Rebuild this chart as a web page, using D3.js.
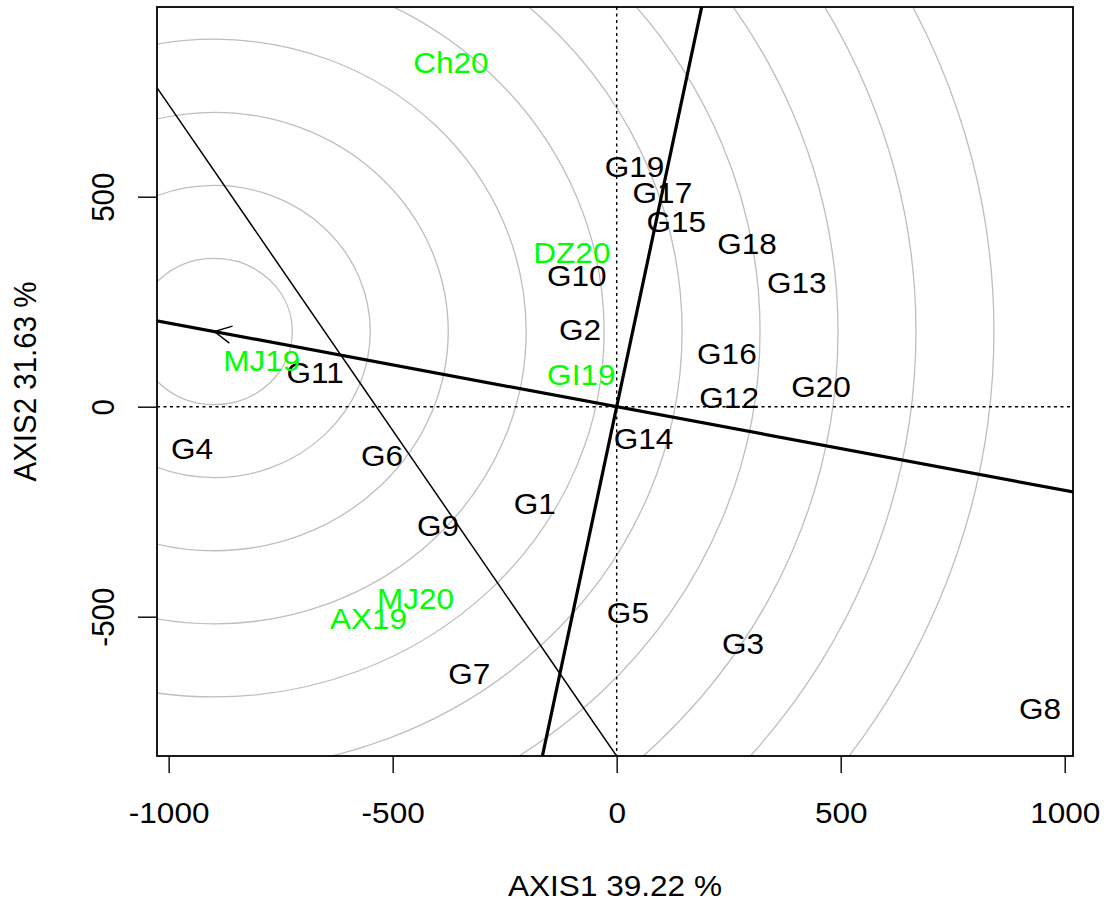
<!DOCTYPE html>
<html>
<head>
<meta charset="utf-8">
<script src="https://cdn.jsdelivr.net/npm/d3@7"></script>
<style>
  html, body { margin: 0; padding: 0; background: #ffffff; }
  svg { display: block; }
  text { font-family: "Liberation Sans", Arial, Helvetica, sans-serif; }
</style>
</head>
<body>
<svg id="chart" width="1104" height="900"></svg>
<script>
// ---------------- data ----------------
const genotypes = ["G1","G2","G3","G4","G5","G6","G7","G8","G9","G10",
                   "G11","G12","G13","G14","G15","G16","G17","G18","G19","G20"];
const genoAxis1 = [-183, -82, 282, -948, 25, -524, -329, 945, -399, -89,
                   -673, 251, 402, 60, 133, 246, 102, 291, 40, 456];
const genoAxis2 = [-230, 183, -563, -100, -491, -115, -635, -719, -283, 312,
                   81, 23, 296, -75, 441, 128, 511, 389, 573, 49];

const environments = ["MJ19","AX19","GI19","Ch20","DZ20","MJ20"];
const envAxis1 = [-792, -554, -79, -370, -100, -449];
const envAxis2 = [109, -504, 78, 820, 367, -457];

const xTicks = [-1000, -500, 0, 500, 1000];
const yTicks = [-500, 0, 500];
const xDomain = [-1026, 1018.5];
const yDomain = [-831.7, 951.7];

const idealPoint = [-898, 179];          // average-environment / ideal point
const ringStep = 174;                    // concentric circle spacing
const ringCount = 10;
const thinLine = [[-1026, 759.5], [0, -832]];  // two points on the thin line

const xTitle = "AXIS1 39.22 %";
const yTitle = "AXIS2 31.63 %";

// ---------------- layout ----------------
const L = 157, R = 1073, T = 7, B = 756;
const FS = 29.5, SX = 1.07;

const svg = d3.select("#chart");
const x = d3.scaleLinear().domain(xDomain).range([L, R]);
const y = d3.scaleLinear().domain(yDomain).range([B, T]);

svg.append("defs").append("clipPath").attr("id", "plotclip")
  .append("rect").attr("x", L).attr("y", T).attr("width", R - L).attr("height", B - T);

const plot = svg.append("g").attr("clip-path", "url(#plotclip)");

// concentric circles around the ideal point (circles in data space)
const rings = d3.range(1, ringCount + 1).map(k => k * ringStep);
plot.selectAll("ellipse.ring").data(rings).join("ellipse")
  .attr("class", "ring")
  .attr("cx", x(idealPoint[0])).attr("cy", y(idealPoint[1]))
  .attr("rx", r => x(r) - x(0)).attr("ry", r => y(0) - y(r))
  .attr("fill", "none").attr("stroke", "#bebebe").attr("stroke-width", 1.3);

// dotted reference lines at 0
plot.append("line")
  .attr("x1", x(0)).attr("x2", x(0)).attr("y1", T).attr("y2", B)
  .attr("stroke", "#000").attr("stroke-width", 1.4).attr("stroke-dasharray", "3,3.5");
plot.append("line")
  .attr("x1", L).attr("x2", R).attr("y1", y(0)).attr("y2", y(0))
  .attr("stroke", "#000").attr("stroke-width", 1.4).attr("stroke-dasharray", "3,3.5");

// average environment axis (through origin and ideal point) and its perpendicular
const ext = 5;
const [ix, iy] = idealPoint;
plot.append("line")
  .attr("x1", x(ix * ext)).attr("y1", y(iy * ext))
  .attr("x2", x(-ix * ext)).attr("y2", y(-iy * ext))
  .attr("stroke", "#000").attr("stroke-width", 3.2);
plot.append("line")
  .attr("x1", x(iy * ext)).attr("y1", y(-ix * ext))
  .attr("x2", x(-iy * ext)).attr("y2", y(ix * ext))
  .attr("stroke", "#000").attr("stroke-width", 3.2);

// thin line
{
  const [p, q] = thinLine;
  const dx = q[0] - p[0], dy = q[1] - p[1];
  plot.append("line")
    .attr("x1", x(p[0] - dx)).attr("y1", y(p[1] - dy))
    .attr("x2", x(q[0] + dx)).attr("y2", y(q[1] + dy))
    .attr("stroke", "#000").attr("stroke-width", 1.5);
}

// open arrowhead at the ideal point
{
  const tx = x(ix), ty = y(iy);
  const ang = Math.atan2(y(0) - ty, x(0) - tx);   // direction back toward origin
  const len = 19, a = 27 * Math.PI / 180;
  const w1 = [tx + len * Math.cos(ang - a), ty + len * Math.sin(ang - a)];
  const w2 = [tx + len * Math.cos(ang + a), ty + len * Math.sin(ang + a)];
  plot.append("path")
    .attr("d", `M${w1[0]},${w1[1]}L${tx},${ty}L${w2[0]},${w2[1]}`)
    .attr("fill", "none").attr("stroke", "#000").attr("stroke-width", 1.4);
}

// labels
function labels(names, xs, ys, color) {
  svg.append("g").selectAll("text").data(names).join("text")
    .attr("transform", (d, i) => `translate(${x(xs[i])},${y(ys[i])}) scale(${SX},1)`)
    .attr("text-anchor", "middle").attr("dy", "0.358em")
    .attr("font-size", FS).attr("fill", color)
    .text(d => d);
}
labels(genotypes, genoAxis1, genoAxis2, "#000000");
labels(environments, envAxis1, envAxis2, "#00ff00");

// axes (plain hyphen-minus like the reference)
const fmt = d => String(d);
const xAxis = svg.append("g").attr("transform", `translate(0,${B})`)
  .call(d3.axisBottom(x).tickValues(xTicks).tickSize(17).tickSizeOuter(0).tickFormat(fmt));
xAxis.select(".domain").remove();
xAxis.selectAll(".tick line").attr("stroke", "#000").attr("stroke-width", 1.4);
xAxis.selectAll(".tick text")
  .attr("y", 812 - B).attr("dy", "0.358em")
  .attr("transform", `scale(${SX},1)`)
  .attr("font-size", FS).attr("fill", "#000")
  .style("font-family", '"Liberation Sans", Arial, sans-serif');

const yAxis = svg.append("g").attr("transform", `translate(${L},0)`)
  .call(d3.axisLeft(y).tickValues(yTicks).tickSize(19).tickSizeOuter(0).tickFormat(fmt));
yAxis.select(".domain").remove();
yAxis.selectAll(".tick line").attr("stroke", "#000").attr("stroke-width", 1.4);
yAxis.selectAll(".tick text")
  .attr("x", 0).attr("y", 0).attr("dy", "0.358em")
  .attr("text-anchor", "middle")
  .attr("transform", `translate(${102.5 - L},0) scale(${SX},1) rotate(-90)`)
  .attr("font-size", FS).attr("fill", "#000")
  .style("font-family", '"Liberation Sans", Arial, sans-serif');

// plot box
svg.append("rect").attr("x", L).attr("y", T).attr("width", R - L).attr("height", B - T)
  .attr("fill", "none").attr("stroke", "#000").attr("stroke-width", 1.8);

// axis titles
svg.append("text")
  .attr("transform", `translate(${(L + R) / 2},885) scale(${SX},1)`)
  .attr("text-anchor", "middle").attr("dy", "0.358em")
  .attr("font-size", FS).attr("fill", "#000").text(xTitle);
svg.append("text")
  .attr("transform", `translate(25,${(T + B) / 2}) scale(${SX},1) rotate(-90)`)
  .attr("text-anchor", "middle").attr("dy", "0.358em")
  .attr("font-size", FS).attr("fill", "#000").text(yTitle);
</script>
</body>
</html>
